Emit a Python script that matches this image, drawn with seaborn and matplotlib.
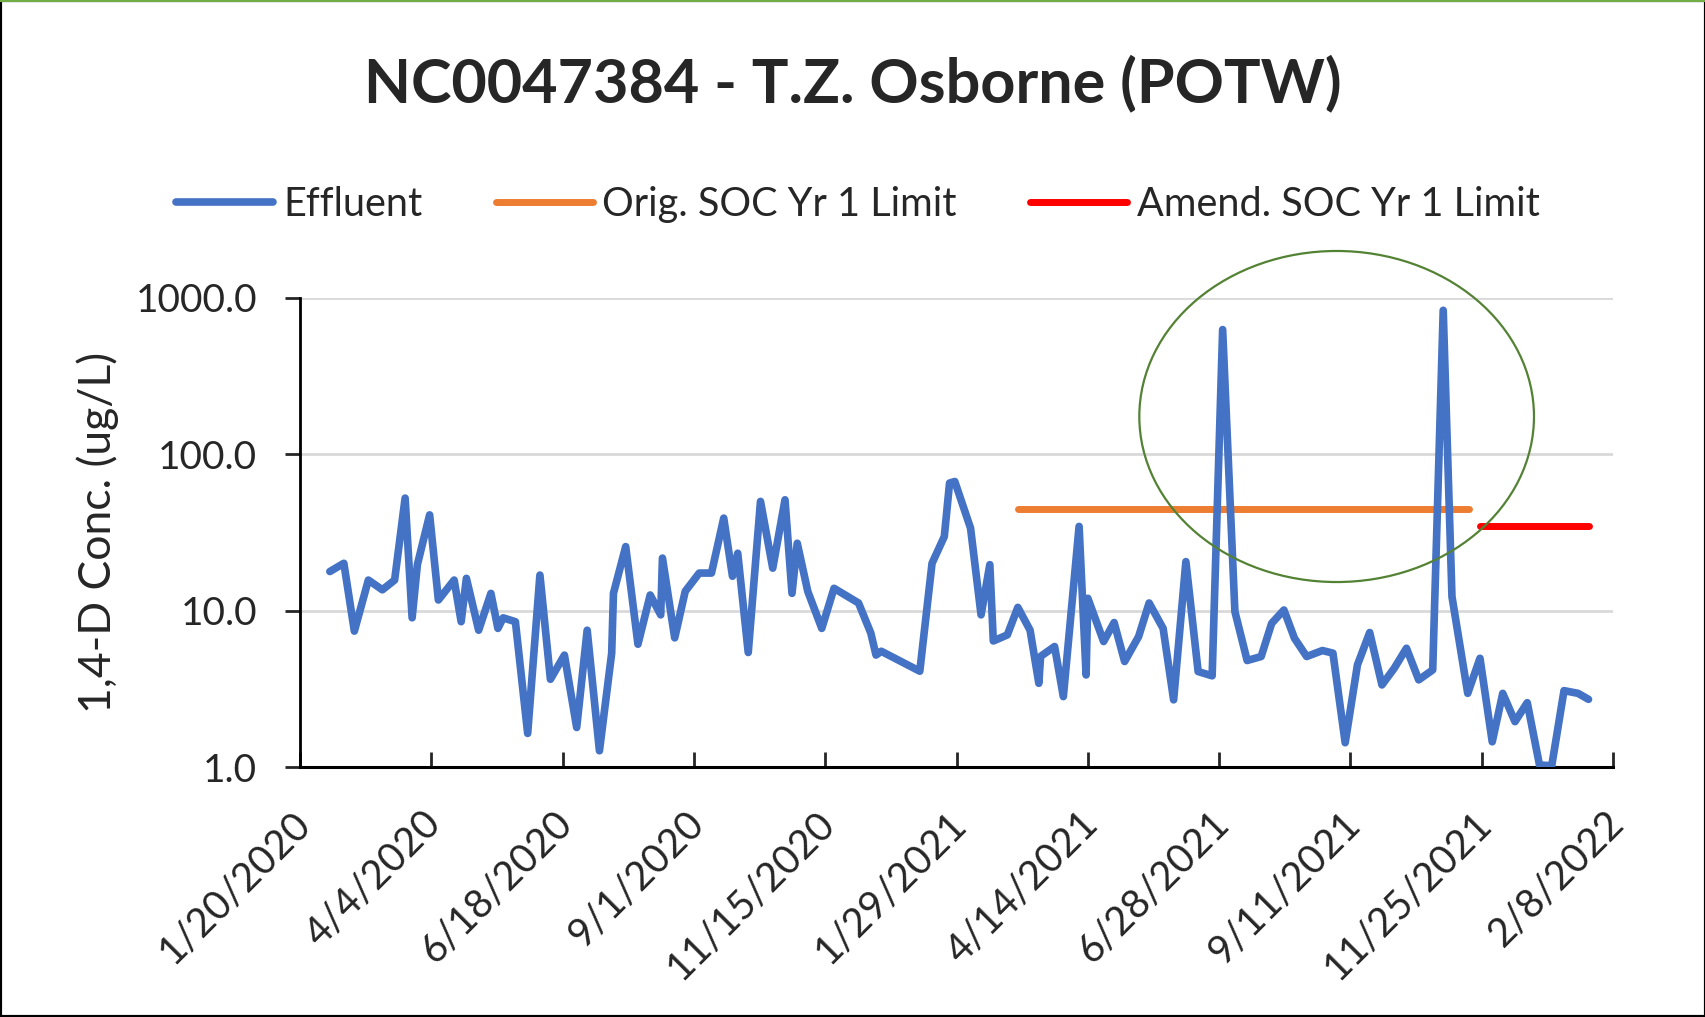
import pandas as pd
import numpy as np
import matplotlib.pyplot as plt
import matplotlib.transforms as mtransforms
import seaborn as sns
from matplotlib.patches import Ellipse, Rectangle
from matplotlib.lines import Line2D

# region << Data >>
effluent_dates = [
    '2020-02-06', '2020-02-14', '2020-02-20', '2020-02-28', '2020-03-07', '2020-03-14',
    '2020-03-20', '2020-03-24', '2020-03-27', '2020-04-03', '2020-04-08', '2020-04-17',
    '2020-04-21', '2020-04-24', '2020-05-01', '2020-05-08', '2020-05-12', '2020-05-15',
    '2020-05-22', '2020-05-29', '2020-06-05', '2020-06-11', '2020-06-19', '2020-06-26',
    '2020-07-02', '2020-07-09', '2020-07-16', '2020-07-17', '2020-07-24', '2020-07-31',
    '2020-08-07', '2020-08-13', '2020-08-14', '2020-08-21', '2020-08-27', '2020-09-04',
    '2020-09-11', '2020-09-18', '2020-09-23', '2020-09-26', '2020-10-02', '2020-10-09',
    '2020-10-16', '2020-10-23', '2020-10-27', '2020-10-30', '2020-11-05', '2020-11-13',
    '2020-11-20', '2020-12-04', '2020-12-11', '2020-12-14', '2020-12-17', '2021-01-08',
    '2021-01-15', '2021-01-22', '2021-01-25', '2021-01-28', '2021-02-06', '2021-02-12',
    '2021-02-17', '2021-02-19', '2021-02-27', '2021-03-05', '2021-03-12', '2021-03-17',
    '2021-03-18', '2021-03-26', '2021-03-31', '2021-04-09', '2021-04-13', '2021-04-14',
    '2021-04-23', '2021-04-29', '2021-05-05', '2021-05-13', '2021-05-19', '2021-05-27',
    '2021-06-02', '2021-06-09', '2021-06-16', '2021-06-24', '2021-06-30', '2021-07-07',
    '2021-07-14', '2021-07-22', '2021-07-28', '2021-08-04', '2021-08-10', '2021-08-17',
    '2021-08-26', '2021-09-01', '2021-09-08', '2021-09-15', '2021-09-22', '2021-09-29',
    '2021-10-06', '2021-10-13', '2021-10-20', '2021-10-28', '2021-11-03', '2021-11-08',
    '2021-11-17', '2021-11-24', '2021-12-01', '2021-12-07', '2021-12-14', '2021-12-21',
    '2021-12-28', '2022-01-04', '2022-01-11', '2022-01-19', '2022-01-25']
effluent_values = [
    17.8, 20.1, 7.4, 15.7, 13.6, 15.7,
    52.5, 9.0, 19.7, 41.0, 11.7, 15.7,
    8.5, 16.1, 7.5, 12.9, 7.7, 9.0,
    8.5, 1.64, 16.9, 3.64, 5.2, 1.79,
    7.5, 1.27, 5.35, 12.9, 25.7, 6.1,
    12.6, 9.4, 21.7, 6.7, 13.3, 17.4,
    17.4, 39.1, 16.6, 23.3, 5.4, 50.0,
    18.7, 51.2, 12.9, 27.0, 13.3, 7.7,
    13.9, 11.2, 7.2, 5.2, 5.5, 4.1,
    20.1, 29.8, 65.5, 67.0, 33.7, 9.4,
    19.7, 6.4, 7.0, 10.5, 7.5, 3.43,
    5.1, 5.9, 2.82, 34.6, 3.88, 12.0,
    6.35, 8.4, 4.73, 6.83, 11.2, 7.7,
    2.69, 20.6, 4.08, 3.83, 628.0, 9.87,
    4.8, 5.09, 8.3, 10.1, 6.67, 5.09,
    5.56, 5.35, 1.43, 4.5, 7.25, 3.35,
    4.28, 5.75, 3.61, 4.18, 834.0, 12.3,
    2.96, 4.96, 1.45, 2.96, 1.95, 2.58,
    1.03, 1.02, 3.08, 2.96, 2.71]

orig_limit_dates = ['2021-03-05', '2021-11-18']
orig_limit_values = [45.0, 45.0]
amend_limit_dates = ['2021-11-24', '2022-01-25']
amend_limit_values = [35.0, 35.0]

x_start, x_end = '2020-01-20', '2022-02-08'
y_ticks = [1, 10, 100, 1000]
title = 'NC0047384 - T.Z. Osborne (POTW)'
# endregion

df_eff = pd.DataFrame({'date': pd.to_datetime(effluent_dates), 'value': effluent_values})
df_orig = pd.DataFrame({'date': pd.to_datetime(orig_limit_dates), 'value': orig_limit_values})
df_amend = pd.DataFrame({'date': pd.to_datetime(amend_limit_dates), 'value': amend_limit_values})

sns.set_style('white')
plt.rcParams['font.family'] = ['Lato', 'DejaVu Sans']

fig = plt.figure(figsize=(17.06, 10.17), dpi=100)
ax = fig.add_axes([0.1759, 0.2458, 0.7696, 0.4612])

# Lines
sns.lineplot(data=df_eff, x='date', y='value', ax=ax, color='#4472C4', linewidth=5.5,
             label='Effluent', solid_joinstyle='round', solid_capstyle='round', zorder=4)
sns.lineplot(data=df_orig, x='date', y='value', ax=ax, color='#ED7D31', linewidth=5,
             label='Orig. SOC Yr 1 Limit', solid_capstyle='round', zorder=3)
sns.lineplot(data=df_amend, x='date', y='value', ax=ax, color='#FF0000', linewidth=5,
             label='Amend. SOC Yr 1 Limit', solid_capstyle='round', zorder=3)

# Reformat y-axis
ax.set_yscale('log')
ax.set_ylim(1, 1000)
ax.set_yticks(y_ticks)
ax.yaxis.set_major_formatter(lambda s, i: f'{s:.1f}')
ax.yaxis.set_minor_locator(plt.NullLocator())
ax.set_ylabel('1,4-D Conc. (ug/L)', fontsize=32, labelpad=12)
ax.yaxis.set_tick_params(which='major', direction='out', length=11, width=2,
                         pad=20, labelsize=28, left=True)

# Reformat x-axis
x_ticks = pd.date_range(x_start, x_end, freq='75D')
ax.set_xlim(pd.Timestamp(x_start), pd.Timestamp(x_end))
ax.set_xticks(x_ticks)
ax.set_xticklabels([f'{d.month}/{d.day}/{d.year}' for d in x_ticks],
                   rotation=45, ha='right', va='top', rotation_mode='anchor')
ax.set_xlabel('')
ax.xaxis.set_tick_params(direction='in', length=11, width=2, pad=27, labelsize=28.5, bottom=True)

# nudge the date labels a little to the left
shift = mtransforms.ScaledTranslation(-0.09, 0, fig.dpi_scale_trans)
for lab in ax.get_xticklabels():
    lab.set_transform(lab.get_transform() + shift)

# Create the grid
ax.grid(which='major', axis='y', color='#D9D9D9', linewidth=2, zorder=0)
ax.grid(False, axis='x')

# Remove the spines
ax.spines[['top', 'right']].set_visible(False)
ax.spines['left'].set_linewidth(2)
ax.spines['bottom'].set_linewidth(2.2)
ax.spines[['left', 'bottom']].set_color('black')

# Circle round the two spikes
ax.add_patch(Ellipse((0.7895, 0.7473), 0.3006, 0.7058, transform=ax.transAxes,
                     fill=False, edgecolor='#548235', linewidth=1.6, clip_on=False, zorder=5))

# Legend on top
handles, labels = ax.get_legend_handles_labels()
ax.get_legend().remove()
fig.legend(handles, labels, loc='center', bbox_to_anchor=(0.503, 0.799), ncol=3,
           frameon=False, fontsize=28.5, handlelength=2.45, handletextpad=0.25,
           columnspacing=1.85)

# Title
fig.text(0.5, 0.918, title, ha='center', va='center', fontsize=44, weight='bold')

# Chart border
fig.add_artist(Rectangle((0, 0), 1, 1, transform=fig.transFigure, fill=False,
                         edgecolor='black', linewidth=3))
fig.add_artist(Line2D([0, 1], [0.999, 0.999], transform=fig.transFigure,
                      color='#70AD47', linewidth=1.5))

fig.savefig('out.png', dpi=100)
